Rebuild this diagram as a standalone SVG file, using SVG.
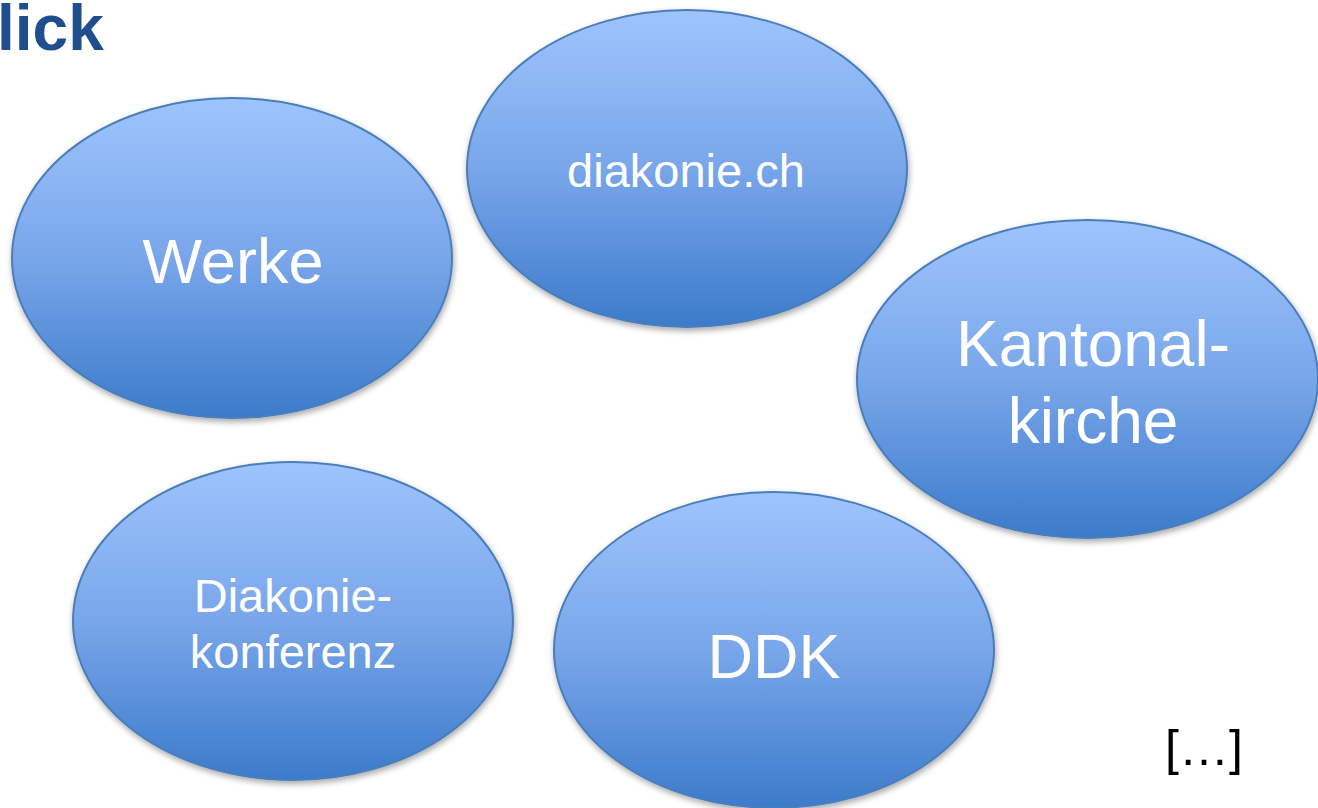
<svg xmlns="http://www.w3.org/2000/svg" width="1318" height="808" viewBox="0 0 1318 808">
<defs>
<linearGradient id="g" x1="0" y1="0" x2="0" y2="1">
<stop offset="0" stop-color="#9ec4fd"/>
<stop offset="0.5" stop-color="#79a6ea"/>
<stop offset="1" stop-color="#3c7bcb"/>
</linearGradient>
<filter id="sh" x="-10%" y="-10%" width="125%" height="130%">
<feGaussianBlur in="SourceAlpha" stdDeviation="3"/>
<feOffset dx="1" dy="3" result="b"/>
<feComponentTransfer><feFuncA type="linear" slope="0.35"/></feComponentTransfer>
<feMerge><feMergeNode/><feMergeNode in="SourceGraphic"/></feMerge>
</filter>
</defs>
<style>
.e{fill:url(#g);stroke:#4a7ebb;stroke-width:2;filter:url(#sh)}
.t{font-family:"Liberation Sans",Arial,sans-serif;fill:#ffffff;text-anchor:middle}
</style>
<rect width="1318" height="808" fill="#ffffff"/>
<text x="-3" y="50" font-family="Liberation Sans, Arial, sans-serif" font-weight="bold" font-size="64" fill="#1f4e8c">lick</text>
<g id="werke">
<ellipse class="e" cx="232" cy="258" rx="220" ry="160"/>
<text class="t" x="233" y="283" font-size="63">Werke</text>
</g>
<g id="diakonie-ch">
<ellipse class="e" cx="687" cy="168.5" rx="220" ry="158.5"/>
<text class="t" x="686" y="187" font-size="47">diakonie.ch</text>
</g>
<g id="kantonalkirche">
<ellipse class="e" cx="1087.5" cy="379" rx="230.5" ry="159"/>
<text class="t" x="1093" y="366" font-size="64">Kantonal-</text>
<text class="t" x="1093" y="443" font-size="64">kirche</text>
</g>
<g id="diakoniekonferenz">
<ellipse class="e" cx="293" cy="621" rx="220" ry="159"/>
<text class="t" x="293" y="612" font-size="47">Diakonie-</text>
<text class="t" x="293" y="668" font-size="47">konferenz</text>
</g>
<g id="ddk">
<ellipse class="e" cx="774" cy="650" rx="220" ry="158"/>
<text class="t" x="774" y="678" font-size="63">DDK</text>
</g>
<g id="connectors"></g>
<text x="1204" y="765" font-family="Liberation Sans, Arial, sans-serif" font-size="50" fill="#000000" text-anchor="middle">[…]</text>
</svg>
